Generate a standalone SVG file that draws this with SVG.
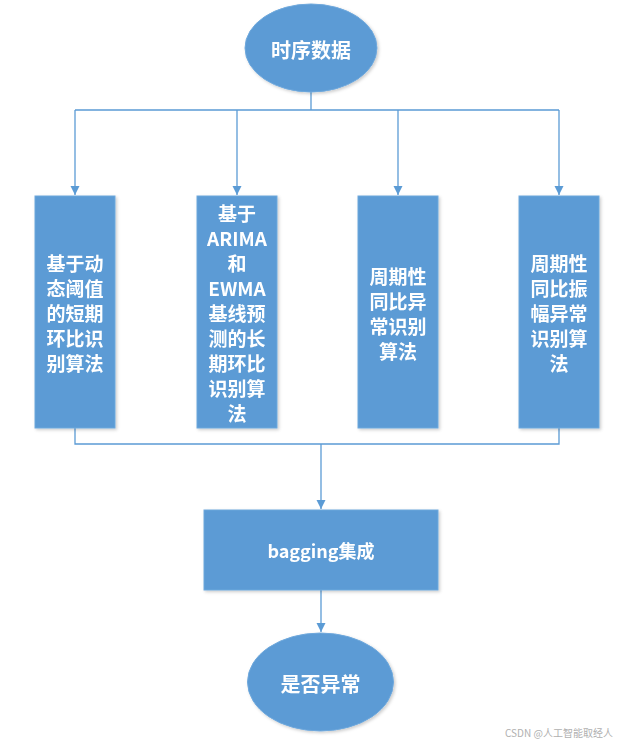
<svg xmlns="http://www.w3.org/2000/svg" width="637" height="745" viewBox="0 0 637 745">
<style>
.shape{fill:#5B9BD5;stroke:#6FA8DC;stroke-width:1}
.lbl{fill:#ffffff;font-family:"Microsoft YaHei","Noto Sans CJK SC",sans-serif;font-weight:bold;font-size:19px;text-anchor:middle;dominant-baseline:central}
.conn{fill:none;stroke:#5B9BD5;stroke-width:1.3}
.wm{fill:#b0b0b0;font-family:"Noto Sans CJK SC",sans-serif;font-size:10px}
</style>
<defs>
<marker id="arr" markerWidth="10" markerHeight="10" refX="9" refY="5" orient="auto" markerUnits="userSpaceOnUse">
<path d="M0,0.5 L9,5 L0,9.5 Z" fill="#5B9BD5"/>
</marker>
<filter id="sh" x="-10%" y="-10%" width="130%" height="130%">
<feDropShadow dx="1.5" dy="1.5" stdDeviation="1.5" flood-color="#000" flood-opacity="0.2"/>
</filter>
</defs>
<rect width="637" height="745" fill="#ffffff"/>
<g id="connectors">
<path class="conn" d="M311,92 V110 M75,110 H559"/>
<path class="conn" d="M75,110 V195" marker-end="url(#arr)"/>
<path class="conn" d="M237,110 V195" marker-end="url(#arr)"/>
<path class="conn" d="M398,110 V195" marker-end="url(#arr)"/>
<path class="conn" d="M559,110 V195" marker-end="url(#arr)"/>
<path class="conn" d="M75,428 V444 H559 V428"/>
<path class="conn" d="M321,444 V509" marker-end="url(#arr)"/>
<path class="conn" d="M321,590 V632" marker-end="url(#arr)"/>
</g>
<g id="n_start" filter="url(#sh)">
<ellipse class="shape" cx="311" cy="48" rx="66" ry="44"/>
<text class="lbl" x="311" y="49" style="font-size:20px">时序数据</text>
</g>
<g id="n_a1" filter="url(#sh)">
<rect class="shape" x="35" y="196" width="80" height="232"/>
<text class="lbl" x="75" y="262">基于动</text>
<text class="lbl" x="75" y="287">态阈值</text>
<text class="lbl" x="75" y="312">的短期</text>
<text class="lbl" x="75" y="337">环比识</text>
<text class="lbl" x="75" y="362">别算法</text>
</g>
<g id="n_a2" filter="url(#sh)">
<rect class="shape" x="197" y="196" width="80" height="232"/>
<text class="lbl" x="237" y="212.5">基于</text>
<text class="lbl" x="237" y="237.5">ARIMA</text>
<text class="lbl" x="237" y="262.5">和</text>
<text class="lbl" x="237" y="287.5">EWMA</text>
<text class="lbl" x="237" y="312.5">基线预</text>
<text class="lbl" x="237" y="337.5">测的长</text>
<text class="lbl" x="237" y="362.5">期环比</text>
<text class="lbl" x="237" y="387.5">识别算</text>
<text class="lbl" x="237" y="412.5">法</text>
</g>
<g id="n_a3" filter="url(#sh)">
<rect class="shape" x="358" y="196" width="80" height="232"/>
<text class="lbl" x="398" y="275">周期性</text>
<text class="lbl" x="398" y="300">同比异</text>
<text class="lbl" x="398" y="325">常识别</text>
<text class="lbl" x="398" y="350">算法</text>
</g>
<g id="n_a4" filter="url(#sh)">
<rect class="shape" x="519" y="196" width="80" height="232"/>
<text class="lbl" x="559" y="262">周期性</text>
<text class="lbl" x="559" y="287">同比振</text>
<text class="lbl" x="559" y="312">幅异常</text>
<text class="lbl" x="559" y="337">识别算</text>
<text class="lbl" x="559" y="362">法</text>
</g>
<g id="n_bag" filter="url(#sh)">
<rect class="shape" x="204" y="510" width="234" height="80"/>
<text class="lbl" x="321" y="550" style="font-size:18px">bagging集成</text>
</g>
<g id="n_end" filter="url(#sh)">
<ellipse class="shape" cx="320.5" cy="682" rx="73" ry="49"/>
<text class="lbl" x="320.5" y="683" style="font-size:20px">是否异常</text>
</g>
<text class="wm" x="505" y="737">CSDN @人工智能取经人</text>
</svg>
